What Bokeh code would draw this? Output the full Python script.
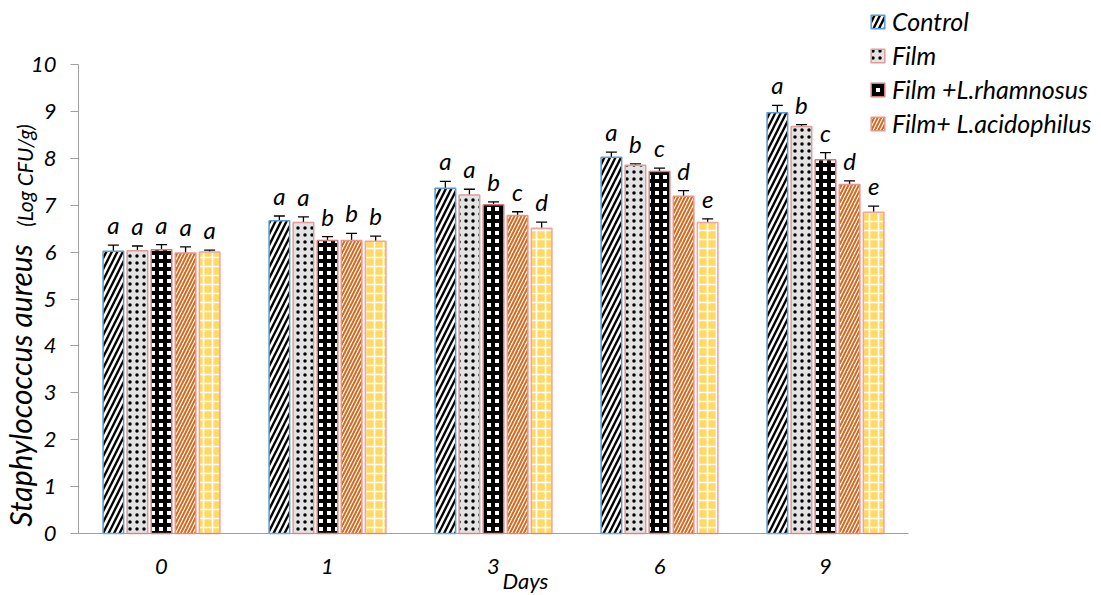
import math
from bokeh.plotting import figure
from bokeh.models import (ColumnDataSource, Range1d, Whisker, TeeHead,
                          LabelSet, Label, Legend, LegendItem, FixedTicker)
from bokeh.transform import dodge
from bokeh.core.properties import value
from bokeh.embed import file_html
from bokeh.resources import INLINE

# ---------------- data ----------------
days = ["0", "1", "3", "6", "9"]
series_names = ["Control", "Film", "Film +L.rhamnosus", "Film+ L.acidophilus", "Film+ mix"]

control = [6.02, 6.67, 7.36, 8.02, 8.97]
film = [6.03, 6.63, 7.22, 7.85, 8.68]
rham = [6.05, 6.25, 7.01, 7.72, 7.97]
acid = [5.98, 6.25, 6.78, 7.19, 7.44]
fifth = [6.00, 6.23, 6.51, 6.63, 6.85]

control_err = [0.13, 0.10, 0.15, 0.11, 0.16]
film_err = [0.10, 0.12, 0.12, 0.03, 0.04]
rham_err = [0.11, 0.08, 0.06, 0.07, 0.15]
acid_err = [0.13, 0.15, 0.08, 0.12, 0.08]
fifth_err = [0.04, 0.11, 0.13, 0.08, 0.13]

control_letters = ["a", "a", "a", "a", "a"]
film_letters = ["a", "a", "a", "b", "b"]
rham_letters = ["a", "b", "b", "c", "c"]
acid_letters = ["a", "b", "c", "d", "d"]
fifth_letters = ["a", "b", "d", "e", "e"]

y_ticks = [0, 1, 2, 3, 4, 5, 6, 7, 8, 9, 10]

# ---------------- styles ----------------
FONT = "Lato"
styles = [
    dict(fill_color="black", hatch_pattern="/", hatch_color="white", hatch_weight=2.6, hatch_scale=11,
         line_color="#5b9bd5"),
    dict(fill_color="#e3e3e3", hatch_pattern=".", hatch_color="black", hatch_weight=1.2, hatch_scale=7,
         line_color="#e39a9a"),
    dict(fill_color="white", hatch_pattern="+", hatch_color="black", hatch_weight=4, hatch_scale=8,
         line_color="#d97a7a"),
    dict(fill_color="white", hatch_pattern="/", hatch_color="#d2691e", hatch_weight=2, hatch_scale=7,
         line_color="#e8958a"),
    dict(fill_color="#ffd966", hatch_pattern="+", hatch_color="white", hatch_weight=1.6, hatch_scale=9,
         line_color="#f0a4a0"),
]

values = [control, film, rham, acid, fifth]
errs = [control_err, film_err, rham_err, acid_err, fifth_err]
letters = [control_letters, film_letters, rham_letters, acid_letters, fifth_letters]

# geometry (canvas px): x=0 at 78, x=5 at 908 ; y=0 at 533, y=10 at 64
W, H = 1101, 595
X0, XPX = 78.0, 166.0
Y0, YPX = 533.0, 46.9
x_start, x_end = -X0 / XPX, (W - X0) / XPX
y_start, y_end = -(H - Y0) / YPX, Y0 / YPX

p = figure(width=W, height=H, x_range=Range1d(x_start, x_end), y_range=Range1d(y_start, y_end),
           output_backend="svg", toolbar_location=None,
           min_border_left=0, min_border_right=0, min_border_top=0, min_border_bottom=0)
p.outline_line_color = None
p.xgrid.grid_line_color = None
p.ygrid.grid_line_color = None
p.background_fill_color = "white"

pitch = 0.145
bar_w = 0.124
offsets = [-2 * pitch, -pitch, 0, pitch, 2 * pitch]
centers = [i + 0.5 for i in range(len(days))]

renderers = []
for i in range(5):
    top = values[i]
    src = ColumnDataSource(dict(
        xc=centers, top=top,
        upper=[t + e for t, e in zip(top, errs[i])],
        lower=[t - e for t, e in zip(top, errs[i])],
        letter=letters[i],
    ))
    r = p.vbar(x=dodge("xc", offsets[i]), top="top", bottom=0, width=bar_w,
               source=src, line_width=1.5, **styles[i])
    renderers.append(r)
    w = Whisker(base=dodge("xc", offsets[i]), upper="upper", lower="lower",
                source=src, line_color="black", line_width=1.3,
                upper_head=TeeHead(size=11, line_color="black", line_width=1.3),
                lower_head=TeeHead(size=11, line_color="black", line_width=1.3))
    p.add_layout(w)
    ls = LabelSet(x=dodge("xc", offsets[i]), y="upper", text="letter", source=src,
                  text_align="center", text_baseline="alphabetic", y_offset=11,
                  text_font=value(FONT), text_font_style="italic", text_font_size="24px",
                  text_color="black")
    p.add_layout(ls)

# axes fixed at the data origin
p.yaxis.fixed_location = 0
p.xaxis.fixed_location = 0
p.yaxis.bounds = (0, 10)
p.xaxis.bounds = (0, len(days))
p.yaxis.ticker = FixedTicker(ticks=y_ticks)
p.xaxis.ticker = FixedTicker(ticks=centers)
p.xaxis.major_label_overrides = {c: d for c, d in zip(centers, days)}
p.yaxis.minor_tick_line_color = None
p.xaxis.minor_tick_line_color = None
p.yaxis.major_tick_in = 0
p.yaxis.major_tick_out = 8
p.yaxis.major_label_standoff = 14
p.yaxis.axis_line_color = "#a0a0a0"
p.yaxis.major_tick_line_color = "#a0a0a0"
p.xaxis.axis_line_color = "#a0a0a0"
p.xaxis.major_tick_line_color = None
p.xaxis.major_tick_in = 0
p.xaxis.major_tick_out = 0
p.xaxis.major_label_standoff = 25
for ax in (p.xaxis, p.yaxis):
    ax.major_label_text_font = FONT
    ax.major_label_text_font_style = "italic"
    ax.major_label_text_font_size = "22px"
    ax.major_label_text_color = "black"

# axis titles as labels (screen units measured from the canvas bottom-left)
p.add_layout(Label(x=19, y=210, x_units="screen", y_units="screen", text="Staphylococcus aureus",
                   angle=math.pi / 2, text_align="center", text_baseline="middle",
                   text_font=FONT, text_font_style="italic", text_font_size="30px",
                   text_color="black"))
p.add_layout(Label(x=24, y=420, x_units="screen", y_units="screen", text="(Log CFU/g)",
                   angle=math.pi / 2, text_align="center", text_baseline="middle",
                   text_font=FONT, text_font_style="italic", text_font_size="21px",
                   text_color="black"))
p.add_layout(Label(x=525, y=15, x_units="screen", y_units="screen", text="Days",
                   text_align="center", text_baseline="alphabetic",
                   text_font=FONT, text_font_style="italic", text_font_size="22px",
                   text_color="black"))

legend = Legend(items=[LegendItem(label=series_names[i], renderers=[renderers[i]]) for i in range(4)],
                location=(869, 457), orientation="vertical",
                glyph_width=17, glyph_height=17, label_standoff=6, spacing=4, label_height=24,
                padding=0, margin=0, border_line_color=None, background_fill_alpha=0,
                label_text_font=FONT, label_text_font_style="italic", label_text_font_size="25px",
                label_text_color="black")
p.add_layout(legend, "center")

open("out.html", "w").write(file_html(p, INLINE))
